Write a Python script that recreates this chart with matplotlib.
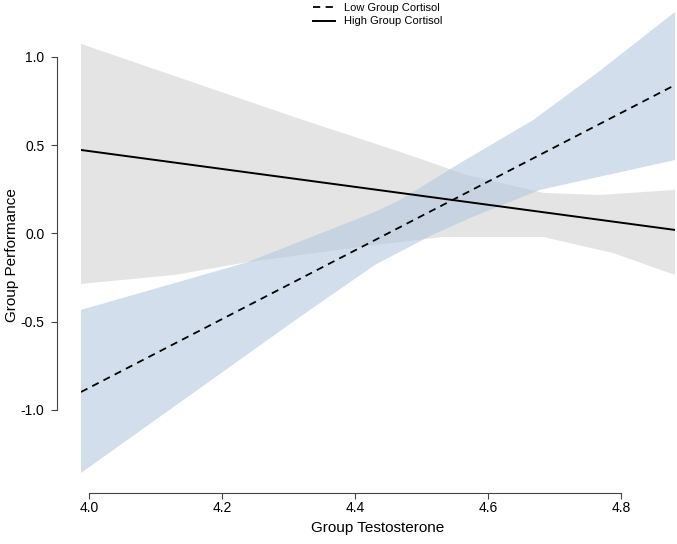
import numpy as np
import matplotlib.pyplot as plt

plt.rcParams['font.family'] = ['Liberation Sans', 'DejaVu Sans']

# Droites de régression (extrémités)
x_ends = [3.988, 4.881]
low_line = [-0.898, 0.841]
high_line = [0.473, 0.020]

# Bande de confiance - cortisol élevé (gris)
high_x_up = [3.988, 4.317, 4.468, 4.568, 4.683, 4.768, 4.881]
high_upper = [1.074, 0.649, 0.462, 0.331, 0.230, 0.218, 0.247]
high_x_low = [3.988, 4.129, 4.239, 4.430, 4.532, 4.683, 4.788, 4.881]
high_lower = [-0.286, -0.235, -0.162, -0.065, -0.020, -0.020, -0.111, -0.235]

# Bande de confiance - cortisol faible (bleu)
low_x_up = [3.988, 4.239, 4.430, 4.468, 4.558, 4.668, 4.768, 4.881]
low_upper = [-0.433, -0.162, 0.122, 0.190, 0.399, 0.643, 0.921, 1.255]
low_x_low = [3.988, 4.317, 4.430, 4.513, 4.573, 4.678, 4.881]
low_lower = [-1.357, -0.473, -0.178, -0.014, 0.088, 0.247, 0.416]

xticks = [4.0, 4.2, 4.4, 4.6, 4.8]
yticks = [-1.0, -0.5, 0.0, 0.5, 1.0]

fig = plt.figure(figsize=(6.77, 5.44), dpi=100)
ax = fig.add_axes([81/677, 1-473/544, 594/677, 463/544])

# polygones des intervalles
px = np.concatenate([high_x_up, high_x_low[::-1]])
py = np.concatenate([high_upper, high_lower[::-1]])
ax.fill(px, py, color='#dcdcdc', alpha=0.75, lw=0)
px = np.concatenate([low_x_up, low_x_low[::-1]])
py = np.concatenate([low_upper, low_lower[::-1]])
ax.fill(px, py, color='#b4c8de', alpha=0.6, lw=0)

ax.plot(x_ends, low_line, color='black', ls=(0, (4, 3)), lw=1.3, label='Low Group Cortisol')
ax.plot(x_ends, high_line, color='black', ls='-', lw=1.4, label='High Group Cortisol')

ax.set_xlim(3.988, 4.881)
ax.set_ylim(-1.357, 1.266)

for s in ['top', 'right']:
    ax.spines[s].set_visible(False)
ax.spines['left'].set_position(('outward', 17.3))
ax.spines['bottom'].set_position(('outward', 14.4))
ax.spines['left'].set_bounds(-1.0, 1.0)
ax.spines['bottom'].set_bounds(4.0, 4.8)
for s in ['left', 'bottom']:
    ax.spines[s].set_color('#444444')
    ax.spines[s].set_linewidth(0.8)

ax.set_xticks(xticks)
ax.set_xticklabels(['%.1f' % v for v in xticks])
ax.set_yticks(yticks)
ax.set_yticklabels(['%.1f' % v for v in yticks])
ax.tick_params(axis='both', colors='#444444', labelcolor='black', length=4, width=0.8, labelsize=10)
ax.tick_params(axis='y', pad=5)
ax.tick_params(axis='x', pad=2)

ax.set_xlabel('Group Testosterone', fontsize=11, labelpad=4)
ax.set_ylabel('Group Performance', fontsize=11)
ax.yaxis.set_label_coords(-0.105, 0.47)

fig.legend(loc='upper left', bbox_to_anchor=(312/677, 1-2/544), frameon=False, fontsize=8,
           handlelength=2.0, labelspacing=0.3, borderaxespad=0, borderpad=0.1)

plt.savefig('out.png', dpi=100)
